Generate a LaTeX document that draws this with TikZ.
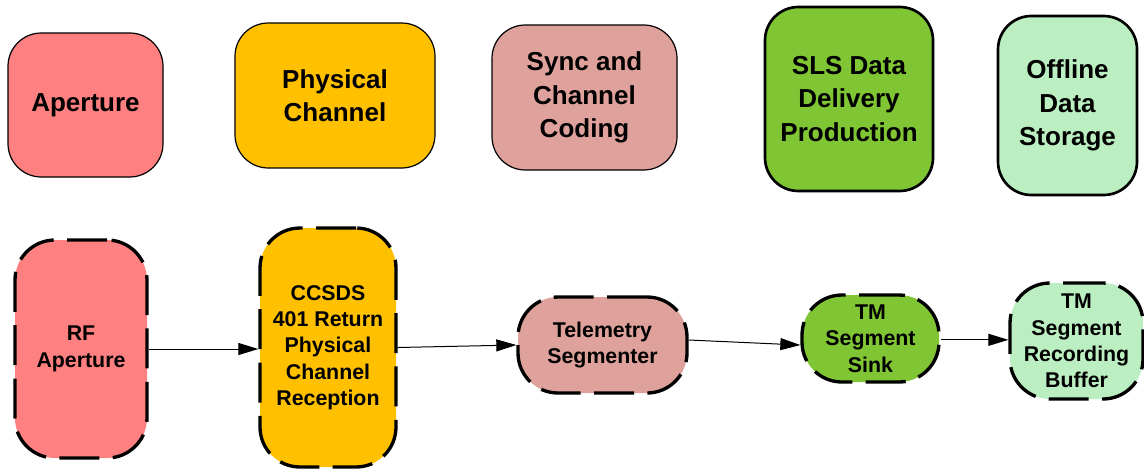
\documentclass[tikz,border=0pt]{standalone}
\usepackage{fontspec}
\setmainfont{Liberation Sans}
\usetikzlibrary{arrows.meta}
\definecolor{cAp}{RGB}{255,128,128}
\definecolor{cPc}{RGB}{255,192,0}
\definecolor{cSc}{RGB}{223,161,156}
\definecolor{cSls}{RGB}{128,197,52}
\definecolor{cOff}{RGB}{187,238,192}
\tikzset{
  topbox/.style={draw=black, line width=0.9pt, rounded corners=25pt, align=center, inner sep=0pt,
    font=\bfseries\fontsize{19.5}{25}\selectfont},
  thickbox/.style={topbox, line width=2pt},
  botbox/.style={draw=black, line width=2.5pt, dash pattern=on 30pt off 10pt, rounded corners=30pt,
    align=center, inner sep=0pt, font=\bfseries\fontsize{16}{19.7}\selectfont},
  flow/.style={line width=0.75pt, -{Triangle[length=15pt,width=9pt]}}
}
\begin{document}
\begin{tikzpicture}[x=0.75pt,y=-0.75pt]
\useasboundingbox (0,0) rectangle (1144,468);
% top row
\node[topbox, fill=cAp, minimum width=116.25pt, minimum height=108pt] (ap) at (85.5,105) {Aperture};
\node[topbox, fill=cPc, minimum width=150pt, minimum height=108.75pt] (pc) at (335,95.5) {Physical\\Channel};
\node[topbox, fill=cSc, minimum width=138.75pt, minimum height=108.75pt] (sc) at (584.5,97.5) {Sync and\\Channel\\Coding};
\node[thickbox, fill=cSls, minimum width=126pt, minimum height=138pt] (sls) at (849,99) {SLS Data\\Delivery\\Production};
\node[thickbox, fill=cOff, minimum width=104.25pt, minimum height=134.25pt] (off) at (1067.5,105.5) {Offline\\Data\\Storage};
% bottom row
\node[botbox, fill=cAp, minimum width=99pt, minimum height=163.5pt] (rf) at (81,349) {RF\\Aperture};
\node[botbox, fill=cPc, minimum width=102pt, minimum height=179.25pt] (cc) at (328,347.5) {CCSDS\\401 Return\\Physical\\Channel\\Reception};
\node[botbox, fill=cSc, minimum width=126.75pt, minimum height=72pt] (ts) at (602.5,345) {Telemetry\\Segmenter};
\node[botbox, fill=cSls, minimum width=102.75pt, minimum height=65.25pt] (sk) at (870.5,338.5) {TM\\Segment\\Sink};
\node[botbox, fill=cOff, minimum width=99.75pt, minimum height=87pt] (rb) at (1076.5,341) {TM\\Segment\\Recording\\Buffer};
% connectors
\draw[flow] (rf.east) -- (rf.east -| cc.west);
\draw[flow] (cc.east) -- (ts.west);
\draw[flow] ([yshift=3.75pt]ts.east) -- ([yshift=-4.9pt]sk.west);
\draw[flow] ([yshift=-1pt]sk.east) -- ([yshift=-1pt]sk.east -| rb.west);
\end{tikzpicture}
\end{document}
